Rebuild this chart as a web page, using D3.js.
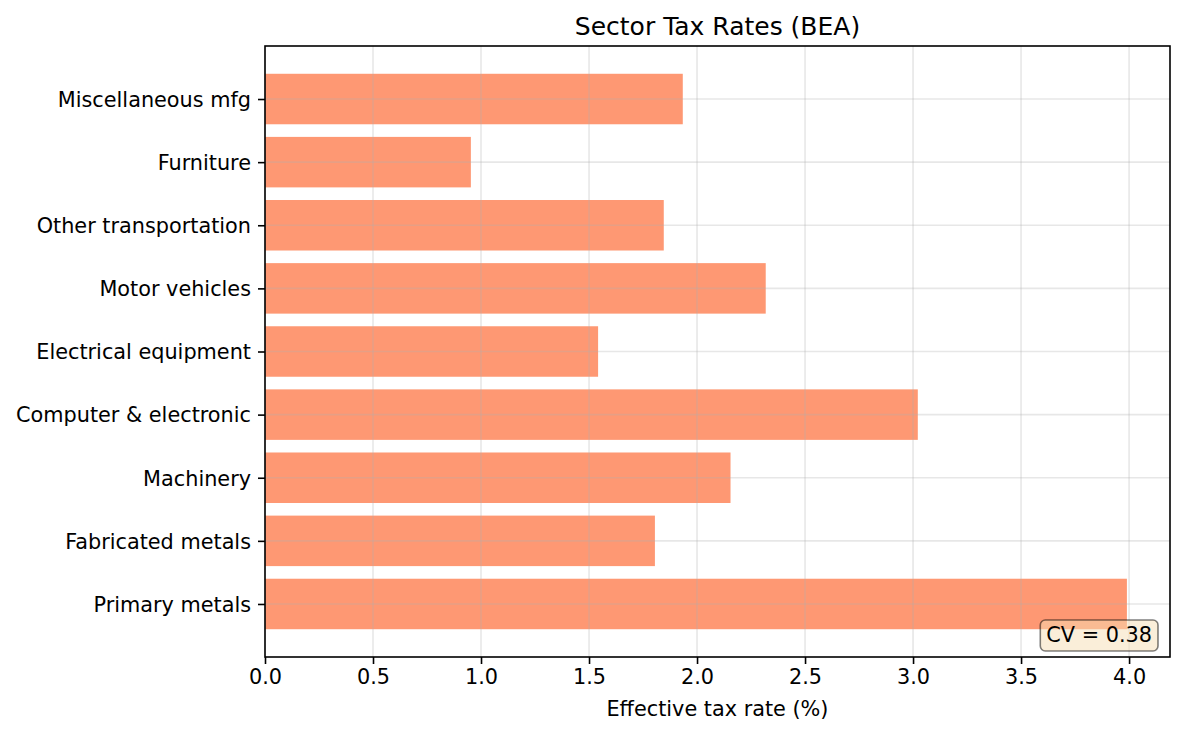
<!doctype html>
<html lang="en">
<head>
  <meta charset="utf-8">
  <title>Sector Tax Rates (BEA)</title>
  <style>
    body { margin: 0; background: #fff; }
    svg text { font-family: "DejaVu Sans", sans-serif; }
    .tick text { font-size: 20.8px; fill: #000; font-family: "DejaVu Sans", sans-serif; }
    .tick line { stroke: #000; stroke-width: 1.6px; }
    .grid line { stroke: #b0b0b0; stroke-opacity: .3; stroke-width: 1.6px; }
  </style>
</head>
<body>
  <svg id="chart" width="1185" height="735"></svg>
  <script src="https://d3js.org/d3.v7.min.js"></script>
  <script>
    // bottom to top, as in the picture
    var sectors = ["Primary metals", "Fabricated metals", "Machinery", "Computer & electronic",
      "Electrical equipment", "Motor vehicles", "Other transportation", "Furniture", "Miscellaneous mfg"]
    var rates = [3.99, 1.805, 2.155, 3.022, 1.542, 2.318, 1.846, 0.953, 1.934]
    var xTicks = [0, 0.5, 1, 1.5, 2, 2.5, 3, 3.5, 4]
    var cvText = "CV = 0.38"

    var margin = {top: 46, right: 15, bottom: 78, left: 265}
    var width = 1185 - margin.left - margin.right
    var height = 735 - margin.top - margin.bottom

    var svg = d3.select("#chart")
    var g = svg.append("g").attr("transform", "translate(" + margin.left + "," + margin.top + ")")

    var x = d3.scaleLinear().domain([0, d3.max(rates) * 1.05]).range([0, width])
    // categories as numbers, bars 0.8 wide, 5% margins like matplotlib
    var y = d3.scaleLinear().domain([-0.84, sectors.length - 1 + 0.84]).range([height, 0])
    var barH = y(0) - y(0.8)

    g.selectAll("rect.bar")
      .data(rates)
      .enter().append("rect")
      .attr("class", "bar")
      .attr("x", x(0))
      .attr("y", function(d, i) { return y(i + 0.4) })
      .attr("width", function(d) { return x(d) - x(0) })
      .attr("height", barH)
      .attr("fill", "#fe9873")

    // grid on top of bars
    var grid = g.append("g").attr("class", "grid")
    grid.selectAll("line.gx").data(xTicks).enter().append("line")
      .attr("x1", function(d) { return x(d) }).attr("x2", function(d) { return x(d) })
      .attr("y1", 0).attr("y2", height)
    grid.selectAll("line.gy").data(sectors).enter().append("line")
      .attr("x1", 0).attr("x2", width)
      .attr("y1", function(d, i) { return y(i) }).attr("y2", function(d, i) { return y(i) })

    var xAxis = g.append("g")
      .attr("transform", "translate(0," + height + ")")
      .call(d3.axisBottom(x).tickValues(xTicks).tickFormat(d3.format(".1f")).tickSize(7).tickPadding(5))
    xAxis.select(".domain").remove()

    var yAxis = g.append("g")
      .call(d3.axisLeft(y).tickValues(d3.range(sectors.length))
        .tickFormat(function(i) { return sectors[i] }).tickSize(7).tickPadding(7))
    yAxis.select(".domain").remove()
    yAxis.selectAll(".tick text").attr("dy", "0.35em")

    g.append("rect")
      .attr("width", width).attr("height", height)
      .attr("fill", "none").attr("stroke", "#000").attr("stroke-width", 1.6)

    // CV box
    var cv = g.append("g")
    var cvLabel = cv.append("text")
      .attr("x", width - 18).attr("y", height - 22)
      .attr("text-anchor", "end")
      .attr("dy", "0.35em")
      .style("font-size", "20.8px")
      .text(cvText)
    var bb = cvLabel.node().getBBox()
    cv.insert("rect", "text")
      .attr("x", bb.x - 6).attr("y", height - 37)
      .attr("width", bb.width + 12).attr("height", 31)
      .attr("rx", 5)
      .attr("fill", "#f5deb3").attr("fill-opacity", .5)
      .attr("stroke", "#000").attr("stroke-opacity", .5).attr("stroke-width", 1.6)

    svg.append("text")
      .attr("x", margin.left + width / 2).attr("y", 35)
      .attr("text-anchor", "middle")
      .style("font-size", "25px")
      .text("Sector Tax Rates (BEA)")

    svg.append("text")
      .attr("x", margin.left + width / 2).attr("y", 716)
      .attr("text-anchor", "middle")
      .style("font-size", "20.8px")
      .text("Effective tax rate (%)")
  </script>
</body>
</html>
